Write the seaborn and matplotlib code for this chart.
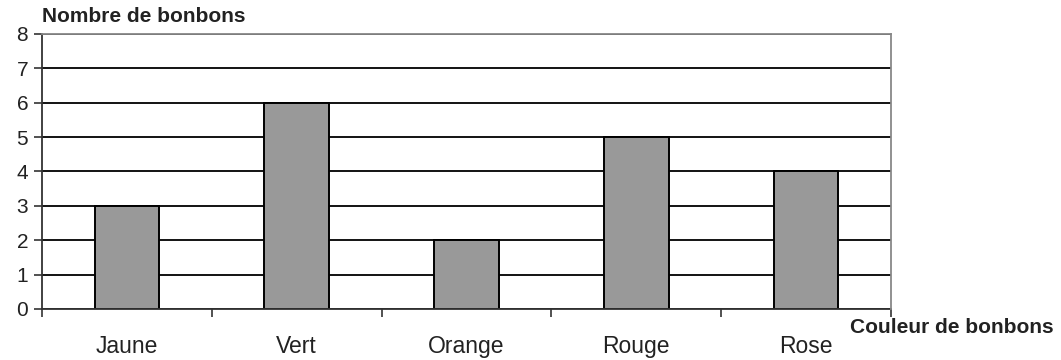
import numpy as np
import pandas as pd
import matplotlib
matplotlib.use("Agg")
import matplotlib.pyplot as plt
import seaborn as sns

# Data
couleurs = ["Jaune", "Vert", "Orange", "Rouge", "Rose"]
nombres = [3, 6, 2, 5, 4]
y_ticks = list(range(0, 9))

df = pd.DataFrame({"Couleur": couleurs, "Nombre": nombres})

sns.set_theme(style="white")
plt.rcParams["font.family"] = ["Liberation Sans", "DejaVu Sans"]

fig = plt.figure(figsize=(10.61, 3.6), dpi=100)
ax = fig.add_axes([0.0396, 0.1417, 0.8002, 0.7639])

sns.barplot(data=df, x="Couleur", y="Nombre", color="#999999",
            edgecolor="black", linewidth=1.4, width=0.38, saturation=1,
            ax=ax, zorder=2)

ax.set_xlim(-0.5, len(couleurs) - 0.5)
ax.set_ylim(0, 8)
ax.set_yticks(y_ticks)

# horizontal grid in black
ax.set_axisbelow(True)
ax.yaxis.grid(True, color="black", linewidth=1.3)
ax.xaxis.grid(False)

# spines: dark left/bottom, gray top/right
for side in ["left", "bottom"]:
    ax.spines[side].set_color("#333333")
    ax.spines[side].set_linewidth(1.3)
for side in ["top", "right"]:
    ax.spines[side].set_color("#888888")
    ax.spines[side].set_linewidth(1.3)
    ax.spines[side].set_zorder(3)

# ticks: y outward, x minor ticks between categories
ax.tick_params(axis="y", which="major", left=True, direction="out", length=6,
               width=1.2, color="#333333", labelsize=15, labelcolor="#222222", pad=4)
ax.set_xticks(np.arange(-0.5, len(couleurs), 1.0), minor=True)
ax.tick_params(axis="x", which="minor", bottom=True, direction="out", length=6,
               width=1.2, color="#333333")
ax.tick_params(axis="x", which="major", length=0, labelsize=16.5,
               labelcolor="#222222", pad=19)

ax.set_xlabel("")
ax.set_ylabel("")

fig.text(0.0396, 0.955, "Nombre de bonbons", fontsize=15, fontweight="bold",
         color="#222222", ha="left", va="center")
fig.text(0.801, 0.09, "Couleur de bonbons", fontsize=15, fontweight="bold",
         color="#222222", ha="left", va="center")

fig.savefig("out.png", dpi=100, facecolor="white")
